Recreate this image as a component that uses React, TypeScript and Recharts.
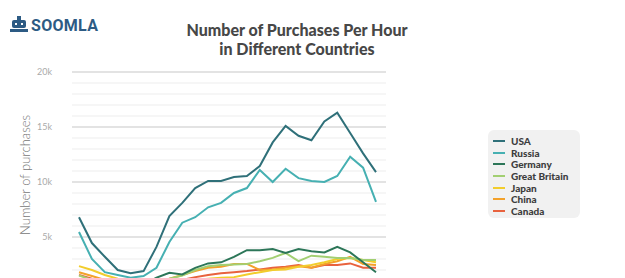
import { CartesianGrid, Legend, Line, LineChart, ReferenceLine, XAxis, YAxis } from 'recharts';

const hours = ['0', '1', '2', '3', '4', '5', '6', '7', '8', '9', '10', '11', '12', '13', '14', '15', '16', '17', '18', '19', '20', '21', '22', '23'];
const usa = [6800, 4450, 3200, 2000, 1700, 1900, 4100, 6900, 8100, 9450, 10100, 10100, 10450, 10550, 11450, 13600, 15100, 14200, 13800, 15500, 16300, 14450, 12600, 10900];
const russia = [5450, 3000, 1800, 1550, 1300, 1450, 2200, 4550, 6300, 6800, 7700, 8100, 9000, 9450, 11100, 10000, 11200, 10350, 10100, 10000, 10550, 12300, 11300, 8200];
const germany = [1000, 800, 600, 500, 500, 700, 1300, 1750, 1600, 2200, 2600, 2700, 3200, 3800, 3800, 3900, 3550, 3900, 3700, 3600, 4100, 3600, 2700, 1800];
const britain = [1500, 1100, 800, 600, 500, 600, 900, 1200, 1500, 2000, 2350, 2450, 2500, 2550, 2800, 3100, 3550, 2800, 3300, 3200, 3100, 3100, 2900, 2900];
const japan = [2350, 2000, 1550, 1200, 900, 800, 800, 900, 1000, 1100, 1200, 1300, 1350, 1600, 1800, 2000, 2050, 2300, 2450, 2700, 3000, 3100, 2900, 2700];
const china = [1800, 1450, 1100, 800, 600, 600, 800, 1200, 1550, 1900, 2200, 2300, 2550, 2550, 2000, 2050, 2200, 2350, 2200, 2550, 2800, 3200, 2550, 2450];
const canada = [1550, 1200, 900, 600, 500, 500, 600, 800, 1100, 1350, 1550, 1700, 1800, 1900, 2050, 2200, 2300, 2450, 2200, 2450, 2450, 2600, 2200, 2200];

const yTicks = [0, 1000, 2000, 3000, 4000, 5000, 6000, 7000, 8000, 9000, 10000, 11000, 12000, 13000, 14000, 15000, 16000, 17000, 18000, 19000, 20000];
const majorTicks = [5000, 10000, 15000, 20000];

const series = [
  { key: 'USA', values: usa, color: '#2f7079' },
  { key: 'Russia', values: russia, color: '#46b0b2' },
  { key: 'Germany', values: germany, color: '#2c7658' },
  { key: 'Great Britain', values: britain, color: '#a2cf72' },
  { key: 'Japan', values: japan, color: '#f2cd2c' },
  { key: 'China', values: china, color: '#f3a12a' },
  { key: 'Canada', values: canada, color: '#e8623e' },
];

const data = hours.map((h, i) => {
  const row: Record<string, string | number> = { hour: h };
  series.forEach(s => { row[s.key] = s.values[i]; });
  return row;
});

const LegendBox = () => (
  <div style={{ background: '#f1f1f1', borderRadius: 6, width: 92, height: 88, padding: '5px 0 0 5px', boxSizing: 'border-box' }}>
    {series.map(s => (
      <div key={s.key} style={{ display: 'flex', alignItems: 'center', height: 11.7 }}>
        <span style={{ width: 12, height: 2, background: s.color, marginRight: 6 }} />
        <span style={{ fontFamily: 'Lato', fontWeight: 900, fontSize: 10, color: '#3e3e3e' }}>{s.key}</span>
      </div>
    ))}
  </div>
);

export default function App() {
  return (
    <div style={{ position: 'absolute', top: 0, left: 0, width: 625, height: 278, overflow: 'hidden', background: '#fff' }}>
      <div style={{ position: 'absolute', left: 9, top: 15, display: 'flex', alignItems: 'center' }}>
        <svg width={20} height={20} viewBox="0 0 20 20">
          <rect x={3} y={5} width={14} height={8} rx={2} fill="#2d5b84" />
          <rect x={8} y={1} width={4} height={4} fill="#2d5b84" />
          <rect x={1} y={14} width={18} height={3} fill="#2d5b84" />
          <rect x={6} y={8} width={2} height={2} fill="#fff" />
          <rect x={12} y={8} width={2} height={2} fill="#fff" />
        </svg>
        <span style={{ fontFamily: 'Roboto', fontWeight: 700, fontSize: 16, color: '#2d5b84', marginLeft: 2, letterSpacing: 0.3 }}>SOOMLA</span>
      </div>
      <div style={{ position: 'absolute', left: 0, width: 594, top: 20, textAlign: 'center', fontFamily: 'Lato', fontWeight: 900, fontSize: 16, lineHeight: '19px', color: '#474747' }}>
        Number of Purchases Per Hour<br />in Different Countries
      </div>
      <div style={{ position: 'absolute', left: 25, top: 175, transform: 'translate(-50%, -50%) rotate(-90deg)', whiteSpace: 'nowrap', fontFamily: 'Lato', fontWeight: 300, fontSize: 13, color: '#777' }}>
        Number of purchases
      </div>
      <div style={{ position: 'absolute', top: 0, left: 0 }}>
        <LineChart width={625} height={300} data={data} margin={{ top: 72, right: 147, left: 0, bottom: 8 }}>
          <CartesianGrid vertical={false} stroke="#ededed" strokeWidth={1} />
          <XAxis dataKey="hour" hide padding={{ left: 7, right: 10 }} />
          <YAxis
            width={72}
            domain={[0, 20000]}
            ticks={yTicks}
            interval={0}
            axisLine={false}
            tickLine={false}
            tickMargin={14}
            tick={{ fontFamily: 'Lato', fontSize: 9, fill: '#aaa' }}
            tickFormatter={(v: number) => (v % 5000 === 0 && v > 0 ? `${v / 1000}k` : '')}
          />
          {majorTicks.map(t => (
            <ReferenceLine key={t} y={t} stroke="#dcdcdc" strokeWidth={1.5} />
          ))}
          <Legend
            layout="vertical"
            verticalAlign="top"
            align="right"
            content={<LegendBox />}
            wrapperStyle={{ top: 130, left: 488, width: 92 }}
          />
          {[...series].reverse().map(s => (
            <Line
              key={s.key}
              type="linear"
              dataKey={s.key}
              stroke={s.color}
              strokeWidth={2}
              dot={false}
              isAnimationActive={false}
            />
          ))}
        </LineChart>
      </div>
    </div>
  );
}
